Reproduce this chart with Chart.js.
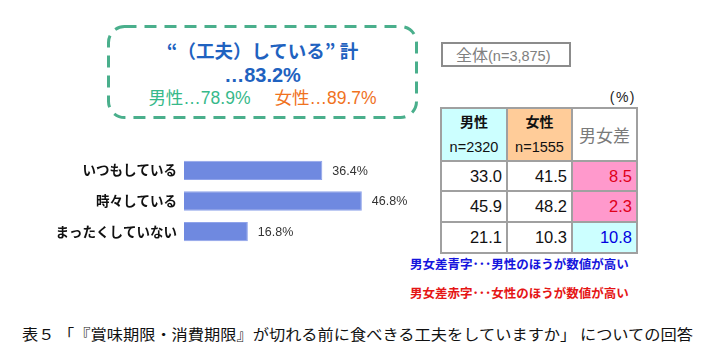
<!DOCTYPE html>
<html><head><meta charset="utf-8">
<script src="https://cdn.jsdelivr.net/npm/chart.js@4"></script>
<style>
html,body{margin:0;padding:0;background:#fff;width:710px;height:351px;overflow:hidden;position:relative;font-family:"Noto Sans CJK JP","Noto Sans",sans-serif;text-spacing-trim:space-all}
.abs{position:absolute}
#box{left:107px;top:25px;width:311px;height:94px;text-align:center}
#box svg{position:absolute;left:0;top:0}
#box .l1{position:absolute;left:0;right:0;top:13px;font-size:18.5px;font-weight:bold;color:#1f62c0;line-height:24px;font-family:"Noto Sans CJK JP",sans-serif;text-spacing-trim:space-all}
#box .l2{position:absolute;left:0;right:0;top:39px;font-size:20px;font-weight:bold;color:#1f62c0;line-height:22px;font-family:Arial,"Noto Sans CJK JP",sans-serif}
#box .l3{position:absolute;left:0;right:0;top:62px;font-size:17.5px;line-height:22px;font-family:Arial,"Noto Sans CJK JP",sans-serif}
#all{left:441px;top:42px;width:130px;height:25px;border:2px solid #8c8c8c;box-sizing:border-box;color:#808080;font-size:16px;line-height:21px;padding-left:13px;font-family:"Noto Sans CJK JP",sans-serif}
#all small{font-size:14.5px;font-family:Arial,sans-serif}
#pct{right:74px;top:89px;font-size:14px;color:#222;letter-spacing:1.5px;font-family:Arial,"Noto Sans CJK JP",sans-serif}
table{position:absolute;left:440px;top:107px;border-collapse:collapse;font-family:Arial,"Liberation Sans",sans-serif}
td{border:2px solid #a0a0a0;padding:0 4px 0 0;text-align:right;font-size:16.5px;color:#111;height:27px;box-sizing:border-box}
td.h{text-align:center;font-size:14.5px;height:47px;padding:0;line-height:25px}
td.h b{font-family:"Noto Sans CJK JP",sans-serif;font-size:14px}
td.d{color:#7a7a7a;font-size:17px;font-family:"Noto Sans CJK JP",sans-serif}
#n1{left:410px;top:254px;font-size:12.5px;color:#1515dd;font-weight:bold}
#n2{left:410px;top:283px;font-size:12.5px;color:#e51515;font-weight:bold}
#cap{left:22px;top:323px;font-size:14.5px;color:#111;white-space:nowrap;transform-origin:0 0;text-spacing-trim:space-all}
</style></head><body>
<div id="box" class="abs">
 <svg width="311" height="94"><rect x="1.5" y="1.5" width="308" height="91" rx="16" ry="16" fill="none" stroke="#4aaf8c" stroke-width="3" stroke-dasharray="12 8"/></svg>
 <div class="l1" id="t1"></div>
 <div class="l2" id="t2"></div>
 <div class="l3"><span style="color:#37b98a" id="t3"></span><span style="display:inline-block;width:24px"></span><span style="color:#f0721e" id="t4"></span></div>
</div>
<div id="all" class="abs"></div>
<div id="pct" class="abs">(%)</div>
<table id="tbl"></table>
<div id="n1" class="abs"></div>
<div id="n2" class="abs"></div>
<div id="cap" class="abs"></div>
<div class="abs" style="left:0;top:155px;width:431px;height:92px"><canvas id="c"></canvas></div>
<script>
const categories = ["いつもしている", "時々している", "まったくしていない"];
const totalValues = [36.4, 46.8, 16.8];
const maleValues = [33.0, 45.9, 21.1];
const femaleValues = [41.5, 48.2, 10.3];
const diffValues = [8.5, 2.3, 10.8];
const diffHigher = ["female", "female", "male"];
const headline = "“（工夫）している” 計";
const headlineTotal = 83.2;
const maleTotal = 78.9;
const femaleTotal = 89.7;
const sampleAll = "3,875";
const sampleMale = "2320";
const sampleFemale = "1555";
const noteBlue = "男女差青字･･･男性のほうが数値が高い";
const noteRed = "男女差赤字･･･女性のほうが数値が高い";
const caption = "表５ 「『賞味期限・消費期限』が切れる前に食べきる工夫をしていますか」 についての回答";

document.getElementById('t1').textContent = headline;
document.getElementById('t2').textContent = "…" + headlineTotal.toFixed(1) + "%";
document.getElementById('t3').textContent = "男性…" + maleTotal.toFixed(1) + "%";
document.getElementById('t4').textContent = "女性…" + femaleTotal.toFixed(1) + "%";
document.getElementById('all').innerHTML = "全体<small>(n=" + sampleAll + ")</small>";
document.getElementById('n1').textContent = noteBlue;
document.getElementById('n2').textContent = noteRed;
document.getElementById('cap').textContent = caption;

const tbl = document.getElementById('tbl');
let html = '<tr><td class="h" style="background:#ccffff;width:66px"><b>男性</b><br>n=' + sampleMale + '</td>' +
  '<td class="h" style="background:#ffcc99;width:65px"><b>女性</b><br>n=' + sampleFemale + '</td>' +
  '<td class="h d" style="width:65px">男女差</td></tr>';
for (let i = 0; i < maleValues.length; i++) {
  const f = diffHigher[i] === 'female';
  html += '<tr><td style="height:' + (i===0?30:31) + 'px">' + maleValues[i].toFixed(1) + '</td><td>' + femaleValues[i].toFixed(1) +
    '</td><td style="background:' + (f ? '#ff99cc' : '#ccffff') + ';color:' + (f ? '#e0001a' : '#0000e0') + '">' + diffValues[i].toFixed(1) + '</td></tr>';
}
tbl.innerHTML = html;

const cv = document.getElementById('c');
const valueLabels = {
  id: 'valueLabels',
  afterDatasetsDraw(chart) {
    const ctx = chart.ctx;
    const meta = chart.getDatasetMeta(0);
    ctx.save();
    ctx.font = '12.5px Arial, "Liberation Sans", sans-serif';
    ctx.fillStyle = '#333';
    ctx.textBaseline = 'middle';
    meta.data.forEach((bar, i) => {
      ctx.fillText(totalValues[i].toFixed(1) + '%', bar.x + 10, bar.y + 1);
    });
    ctx.restore();
  }
};
new Chart(cv, {
  type: 'bar',
  data: { labels: categories, datasets: [{ data: totalValues, backgroundColor: '#6f89e0', borderColor: '#8fa3ea', borderWidth: 1, barPercentage: 0.63, categoryPercentage: 1 }] },
  options: {
    indexAxis: 'y', responsive: true, maintainAspectRatio: false, animation: false,
    layout: { padding: 0 },
    plugins: { legend: { display: false }, tooltip: { enabled: false } },
    scales: {
      x: { display: false, min: 0, max: 65 },
      y: { grid: { display: false, drawTicks: false }, border: { display: false },
           afterFit(s) { s.width = 184; s.paddingTop = 0; s.paddingBottom = 0; },
           ticks: { color: '#111', padding: 7, font: { size: 13.5, weight: 'bold', family: '"Noto Sans CJK JP", sans-serif' } } }
    }
  },
  plugins: [valueLabels]
});
const cap = document.getElementById('cap');
const w = cap.getBoundingClientRect().width;
cap.style.transform = 'scaleX(' + (671 / w) + ')';
</script>
</body></html>
